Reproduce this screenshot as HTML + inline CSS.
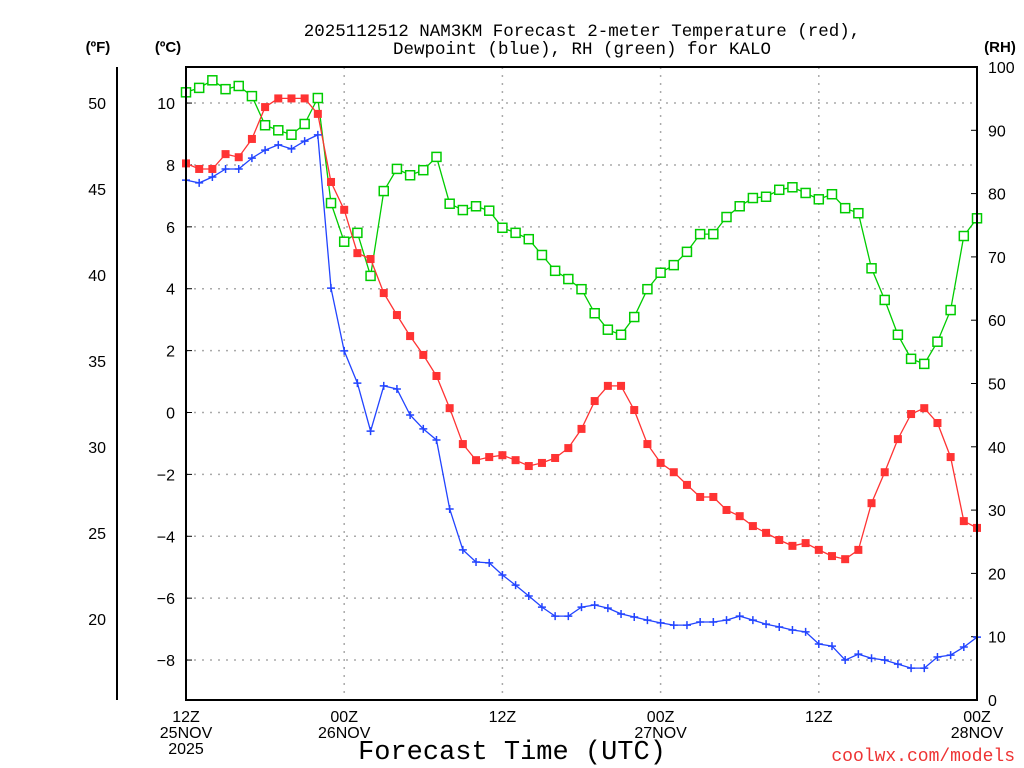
<!DOCTYPE html>
<html><head><meta charset="utf-8"><style>
html,body{margin:0;padding:0;background:#fff;}
svg{display:block;font-family:"Liberation Sans",sans-serif;}
</style></head><body>
<svg id="chart" width="1024" height="768" viewBox="0 0 1024 768">
<g font-size="17.5" text-anchor="middle" fill="#000" font-family="'Liberation Mono',monospace">
<text x="582" y="36">2025112512 NAM3KM Forecast 2-meter Temperature (red),</text>
<text x="582" y="54">Dewpoint (blue), RH (green) for KALO</text>
</g>
<text x="98" y="52" font-size="15" font-weight="bold" text-anchor="middle">(ºF)</text>
<text x="168" y="52" font-size="15" font-weight="bold" text-anchor="middle">(ºC)</text>
<text x="1000" y="52" font-size="15" font-weight="bold" text-anchor="middle">(RH)</text>
<g id="grid"></g>
<g id="axes"></g>
<g id="series"></g>
<rect x="186" y="67" width="791" height="633" fill="none" stroke="#000" stroke-width="2"/>
<text x="512" y="759" font-size="27" text-anchor="middle" font-family="'Liberation Mono',monospace">Forecast Time (UTC)</text>
<text x="1015" y="761" font-size="18" text-anchor="end" fill="#e33" font-family="'Liberation Mono',monospace">coolwx.com/models</text>
</svg>
<script>
const tempC=[8.05,7.87,7.87,8.35,8.25,8.84,9.87,10.15,10.15,10.15,9.65,7.45,6.55,5.15,4.96,3.86,3.15,2.47,1.86,1.18,0.14,-1.02,-1.54,-1.44,-1.38,-1.54,-1.73,-1.63,-1.47,-1.15,-0.53,0.37,0.86,0.86,0.08,-1.02,-1.63,-1.93,-2.34,-2.73,-2.73,-3.15,-3.35,-3.67,-3.89,-4.12,-4.31,-4.22,-4.44,-4.64,-4.74,-4.44,-2.93,-1.93,-0.86,-0.05,0.14,-0.34,-1.44,-3.51,-3.73];
const dewC=[7.51,7.42,7.61,7.87,7.87,8.22,8.48,8.65,8.52,8.77,8.97,4.02,1.99,0.95,-0.60,0.86,0.76,-0.08,-0.53,-0.89,-3.12,-4.44,-4.83,-4.86,-5.25,-5.58,-5.93,-6.29,-6.58,-6.58,-6.29,-6.22,-6.32,-6.51,-6.61,-6.71,-6.80,-6.87,-6.87,-6.77,-6.77,-6.71,-6.58,-6.71,-6.84,-6.93,-7.03,-7.09,-7.48,-7.55,-8.00,-7.81,-7.94,-8.00,-8.13,-8.26,-8.26,-7.90,-7.84,-7.58,-7.26];
const rh=[96.0,96.7,97.9,96.5,97.0,95.4,90.8,90.0,89.3,91.0,95.1,78.5,72.4,73.8,67.0,80.4,83.9,82.9,83.7,85.8,78.4,77.4,78.0,77.3,74.6,73.8,72.8,70.3,67.8,66.5,64.9,61.1,58.5,57.7,60.5,64.9,67.5,68.7,70.8,73.6,73.6,76.3,78.0,79.3,79.5,80.6,81.0,80.1,79.1,79.9,77.7,76.9,68.2,63.2,57.7,53.9,53.1,56.6,61.6,73.3,76.1];
const cTicks=[-8,-6,-4,-2,0,2,4,6,8,10];
const fTicks=[20,25,30,35,40,45,50];
const rhTicks=[0,10,20,30,40,50,60,70,80,90,100];
const xTickHours=[0,12,24,36,48,60];
const xTickLabels=[["12Z","25NOV","2025"],["00Z","26NOV"],["12Z"],["00Z","27NOV"],["12Z"],["00Z","28NOV"]];

const NS="http://www.w3.org/2000/svg";
const X=h=>186+h*(791/60);
const YC=c=>412.5-c*30.944;
const YF=f=>YC((f-32)*5/9);
const YR=r=>700-r*6.33;
function mk(tag,attrs,parent){const e=document.createElementNS(NS,tag);for(const k in attrs)e.setAttribute(k,attrs[k]);parent.appendChild(e);return e;}
const grid=document.getElementById('grid'),axes=document.getElementById('axes'),ser=document.getElementById('series');

cTicks.forEach(c=>{
  const y=YC(c);
  const g=mk('line',{x1:186,x2:977,y1:y,y2:y,stroke:'#aaa','stroke-width':1.5,'stroke-dasharray':'2,6'},grid);
  
  
  const t=mk('text',{x:175,y:y+6,'font-size':16,'text-anchor':'end'},axes);t.textContent=(c<0?'\u2212'+(-c):c);
  
  
  const tk=mk('line',{x1:186,x2:192,y1:y,y2:y,stroke:'#000','stroke-width':1},axes);
  
  
});
xTickHours.forEach((h,i)=>{
  const x=X(h);
  if(h>0&&h<60){const g=mk('line',{x1:x,x2:x,y1:67,y2:700,stroke:'#aaa','stroke-width':1.5,'stroke-dasharray':'2,6'},grid);
  
  }
  xTickLabels[i].forEach((s,j)=>{const t=mk('text',{x:x,y:722+j*16,'font-size':16,'text-anchor':'middle'},axes);t.textContent=s;
  
  });
});
const fa=mk('line',{x1:117,x2:117,y1:67,y2:700,stroke:'#000','stroke-width':2},axes);


fTicks.forEach(f=>{
  const y=YF(f);
  const t=mk('text',{x:106,y:y+6,'font-size':16,'text-anchor':'end'},axes);t.textContent=f;
  
  
});
rhTicks.forEach(r=>{
  const y=YR(r);
  const t=mk('text',{x:988,y:y+6,'font-size':16,'text-anchor':'start'},axes);t.textContent=r;
  
  
  const tk=mk('line',{x1:971,x2:977,y1:y,y2:y,stroke:'#000','stroke-width':1},axes);
  
  
});
function pts(arr,fy){return arr.map((v,i)=>X(i).toFixed(1)+','+fy(v).toFixed(1)).join(' ');}
const gl=mk('polyline',{points:pts(rh,YR),fill:'none',stroke:'#0c0','stroke-width':1.3},ser);


rh.forEach((v,i)=>{const m=mk('rect',{x:X(i)-4.5,y:YR(v)-4.5,width:9,height:9,fill:'#fff',stroke:'#0c0','stroke-width':1.5},ser);
  
  });
const tl=mk('polyline',{points:pts(tempC,YC),fill:'none',stroke:'#f33','stroke-width':1.3},ser);


tempC.forEach((v,i)=>{const m=mk('rect',{x:X(i)-4,y:YC(v)-4,width:8,height:8,fill:'#f33'},ser);
  
  });
const dl=mk('polyline',{points:pts(dewC,YC),fill:'none',stroke:'#24f','stroke-width':1.3},ser);


dewC.forEach((v,i)=>{const x=X(i),y=YC(v);
  const m=mk('path',{d:`M${x-4},${y}H${x+4}M${x},${y-4}V${y+4}`,stroke:'#24f','stroke-width':1.5,fill:'none'},ser);
  
  });
</script>
</body></html>
